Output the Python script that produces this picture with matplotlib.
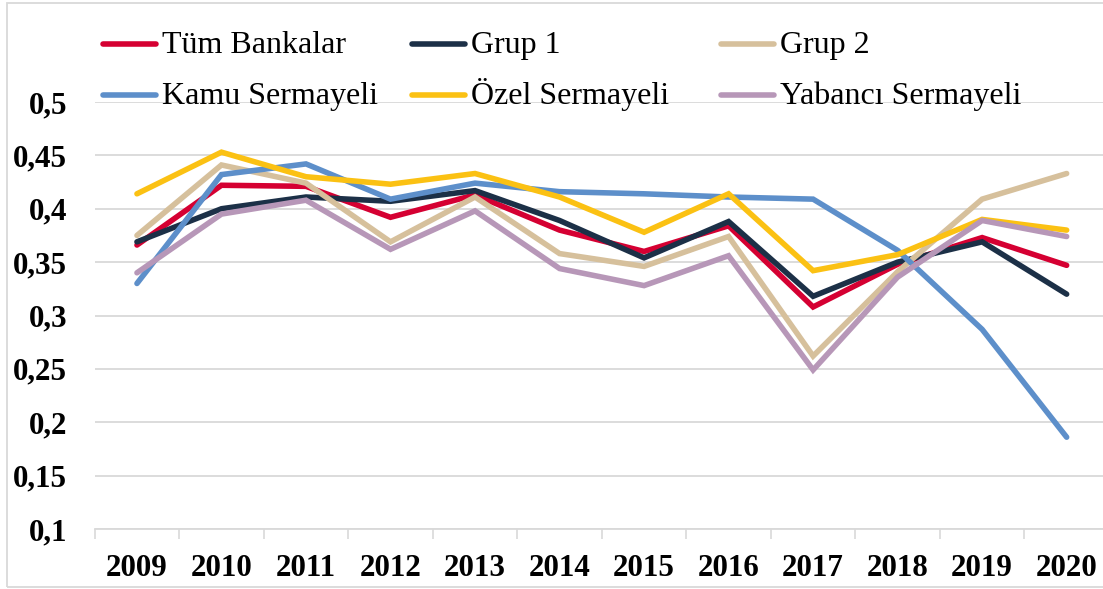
"""Line chart of bank group ratios, 2009-2020."""
import matplotlib

matplotlib.use("Agg")
import matplotlib.pyplot as plt
from matplotlib.lines import Line2D
from matplotlib.patches import Rectangle

years = ["2009", "2010", "2011", "2012", "2013", "2014", "2015", "2016", "2017", "2018", "2019", "2020"]

tum_bankalar = [0.366, 0.422, 0.421, 0.392, 0.413, 0.380, 0.360, 0.384, 0.308, 0.348, 0.373, 0.347]
grup_1 = [0.369, 0.400, 0.411, 0.407, 0.417, 0.389, 0.354, 0.388, 0.318, 0.350, 0.369, 0.320]
grup_2 = [0.375, 0.441, 0.424, 0.369, 0.411, 0.358, 0.346, 0.374, 0.262, 0.341, 0.409, 0.433]
kamu = [0.330, 0.432, 0.442, 0.409, 0.424, 0.416, 0.414, 0.411, 0.409, 0.361, 0.287, 0.186]
ozel = [0.414, 0.453, 0.430, 0.423, 0.433, 0.411, 0.378, 0.414, 0.342, 0.357, 0.390, 0.380]
yabanci = [0.340, 0.395, 0.408, 0.362, 0.398, 0.344, 0.328, 0.356, 0.249, 0.336, 0.389, 0.374]

y_ticks = [0.1, 0.15, 0.2, 0.25, 0.3, 0.35, 0.4, 0.45, 0.5]
y_tick_labels = ["0,1", "0,15", "0,2", "0,25", "0,3", "0,35", "0,4", "0,45", "0,5"]

series = [
    ("Tüm Bankalar", tum_bankalar, "#D50032"),
    ("Grup 1", grup_1, "#1C3047"),
    ("Grup 2", grup_2, "#D6C09C"),
    ("Kamu Sermayeli", kamu, "#5D8FCA"),
    ("Özel Sermayeli", ozel, "#FBC113"),
    ("Yabancı Sermayeli", yabanci, "#B797B8"),
]

W, H = 1103, 589
plt.rcParams["font.family"] = ["Liberation Serif", "DejaVu Serif"]

fig = plt.figure(figsize=(W / 100, H / 100), dpi=100)
ax = fig.add_axes([94.7 / W, 1 - 529 / H, 1 - 94.7 / W, (529 - 102) / H])

x = list(range(len(years)))
for label, values, color in series:
    ax.plot(x, values, color=color, lw=4.0, label=label,
            solid_capstyle="round", solid_joinstyle="miter")

ax.set_ylim(0.1, 0.5)
ax.set_xlim(-0.5, 11.43)
ax.set_yticks(y_ticks)
ax.set_yticklabels(y_tick_labels)
ax.set_xticks(x)
ax.set_xticklabels(years)
ax.set_xticks([i - 0.5 for i in range(len(years))], minor=True)

for lab in ax.get_xticklabels() + ax.get_yticklabels():
    lab.set_fontweight("bold")
    lab.set_fontsize(22.3)

ax.tick_params(axis="y", length=0, pad=20)
ax.tick_params(axis="x", which="major", length=0, pad=18)
ax.tick_params(axis="x", which="minor", length=7, width=1.2, color="#D9D9D9")

ax.grid(axis="y", color="#D9D9D9", lw=1.3)
ax.set_axisbelow(True)
for side in ("top", "right", "left"):
    ax.spines[side].set_visible(False)
ax.spines["bottom"].set_color("#D9D9D9")
ax.spines["bottom"].set_linewidth(1.3)

# legend drawn by hand: 3 columns x 2 rows, placed like the reference
col_left = [103, 412, 721]
row_baseline = [53, 104]
for i, (label, _, color) in enumerate(series):
    x0 = col_left[i % 3]
    yb = row_baseline[i // 3]
    fig.add_artist(Line2D([x0 / W, (x0 + 53) / W], [1 - (yb - 9.5) / H] * 2,
                          color=color, lw=4.0, solid_capstyle="round",
                          transform=fig.transFigure))
    fig.text((x0 + 59) / W, 1 - yb / H, label, fontsize=23, va="baseline", ha="left")

fig.patches.append(
    Rectangle((7 / W, 1 - 587 / H), 1.0, (587 - 3) / H, transform=fig.transFigure,
              fill=False, edgecolor="#D9D9D9", lw=1.3)
)

fig.savefig("out.png", dpi=100)
